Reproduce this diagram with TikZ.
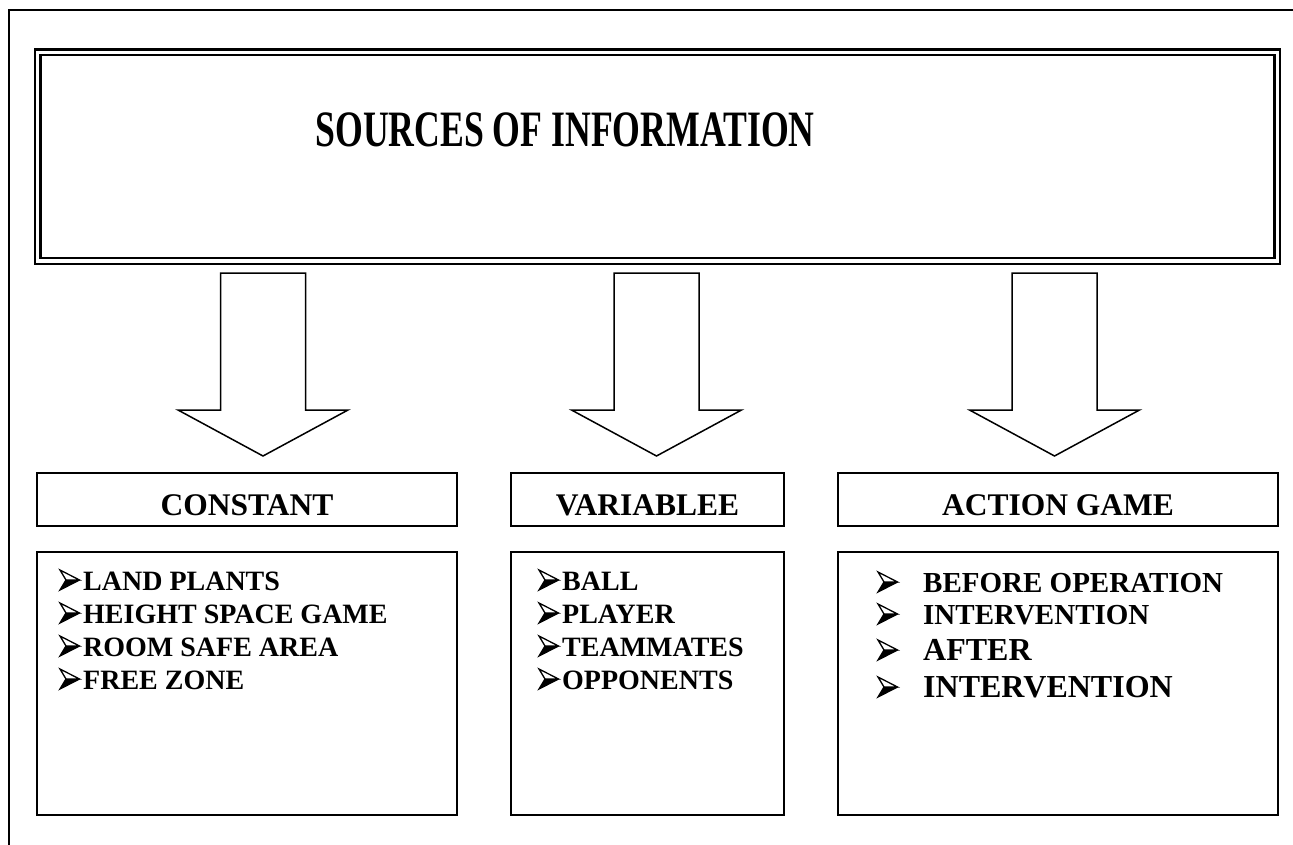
\documentclass[tikz,border=0pt]{standalone}
\usepackage{fontspec}
\setmainfont{Liberation Serif}
\begin{document}
\begin{tikzpicture}[x=1pt,y=-1pt,
  frame/.style={line width=2pt},
  tbox/.style={draw, line width=2.4pt, inner sep=0pt},
  box/.style={draw, line width=1.8pt, inner sep=0pt},
  blockarrow/.style={draw, line width=1.5pt, line join=miter, fill=white},
  title/.style={anchor=base, inner sep=0pt},
  head/.style={font=\fontsize{31.5}{31.5}\selectfont\bfseries, anchor=base, inner sep=0pt},
  item/.style={font=\fontsize{28}{28}\selectfont\bfseries, anchor=base west, inner sep=0pt},
  bigitem/.style={font=\fontsize{32}{32}\selectfont\bfseries, anchor=base west, inner sep=0pt},
  arrowbullet/.pic={
    \draw[line width=1.3pt, line join=miter, fill=white] (0,-20) -- (19.5,-10) -- (6,-10) -- cycle;
    \fill[black] (6,-10) -- (19.5,-10) -- (0,0) -- cycle;
    \draw[line width=1.3pt, line join=miter] (6,-10) -- (0,0) -- (19.5,-10);
  }
]
\useasboundingbox (0,0) rectangle (1293,845);
\fill[white] (0,0) rectangle (1293,845);
% outer frame
\coordinate (fa) at (9,845);
\coordinate (fb) at (9,10);
\coordinate (fc) at (1293,10);
\draw[frame] (fa) -- (fb) -- (fc);
% title box
\node[tbox, minimum width=1245pt, minimum height=214.5pt] (tout) at (657.5,156.75) {};
\node[tbox, minimum width=1234pt, minimum height=203pt] (tin) at (657.5,156.5) {};
\node[title] (ttext) at (565,147) {\scalebox{0.70}[1]{\fontsize{51}{51}\selectfont\bfseries SOURCES OF INFORMATION}};
% block arrows
\foreach \cx/\nm in {263/a1, 656.5/a2, 1054.5/a3}{
  \coordinate (\nm) at (\cx,456);
  \draw[blockarrow] (\cx-42.5,273) -- (\cx+42.5,273) -- (\cx+42.5,410) -- (\cx+85,410) -- (\nm) -- (\cx-85,410) -- (\cx-42.5,410) -- cycle;
}
% header boxes
\node[box, minimum width=420pt, minimum height=53pt] (h1) at (247,499.5) {};
\node[box, minimum width=273pt, minimum height=53pt] (h2) at (647.5,499.5) {};
\node[box, minimum width=440pt, minimum height=53pt] (h3) at (1058,499.5) {};
\node[head] (h1t) at (247,515) {CONSTANT};
\node[head] (h2t) at (647.5,515) {VARIABLEE};
\node[head] (h3t) at (1058,515) {ACTION GAME};
% list boxes
\node[box, minimum width=420pt, minimum height=263pt] (l1) at (247,683.5) {};
\node[box, minimum width=273pt, minimum height=263pt] (l2) at (647.5,683.5) {};
\node[box, minimum width=440pt, minimum height=263pt] (l3) at (1058,683.5) {};
% list 1
\foreach \y/\t/\n in {590/LAND PLANTS/1, 623/HEIGHT SPACE GAME/2, 656/ROOM SAFE AREA/3, 689/FREE ZONE/4}{
  \pic (b1\n) at (60,\y) {arrowbullet};
  \node[item] (t1\n) at (83,\y) {\t};
}
% list 2
\foreach \y/\t/\n in {590/BALL/1, 623/PLAYER/2, 656/TEAMMATES/3, 689/OPPONENTS/4}{
  \pic (b2\n) at (539,\y) {arrowbullet};
  \node[item] (t2\n) at (562,\y) {\t};
}
% list 3
\foreach \y/\t/\n in {592/BEFORE OPERATION/1, 624/INTERVENTION/2}{
  \pic (b3\n) at (878,\y) {arrowbullet};
  \node[item, font=\fontsize{29}{29}\selectfont\bfseries] (t3\n) at (923,\y) {\t};
}
\foreach \y/\t/\n in {660/AFTER/3, 697/INTERVENTION/4}{
  \pic (b3\n) at (878,\y) {arrowbullet};
  \node[bigitem] (t3\n) at (923,\y) {\t};
}
\end{tikzpicture}
\end{document}
